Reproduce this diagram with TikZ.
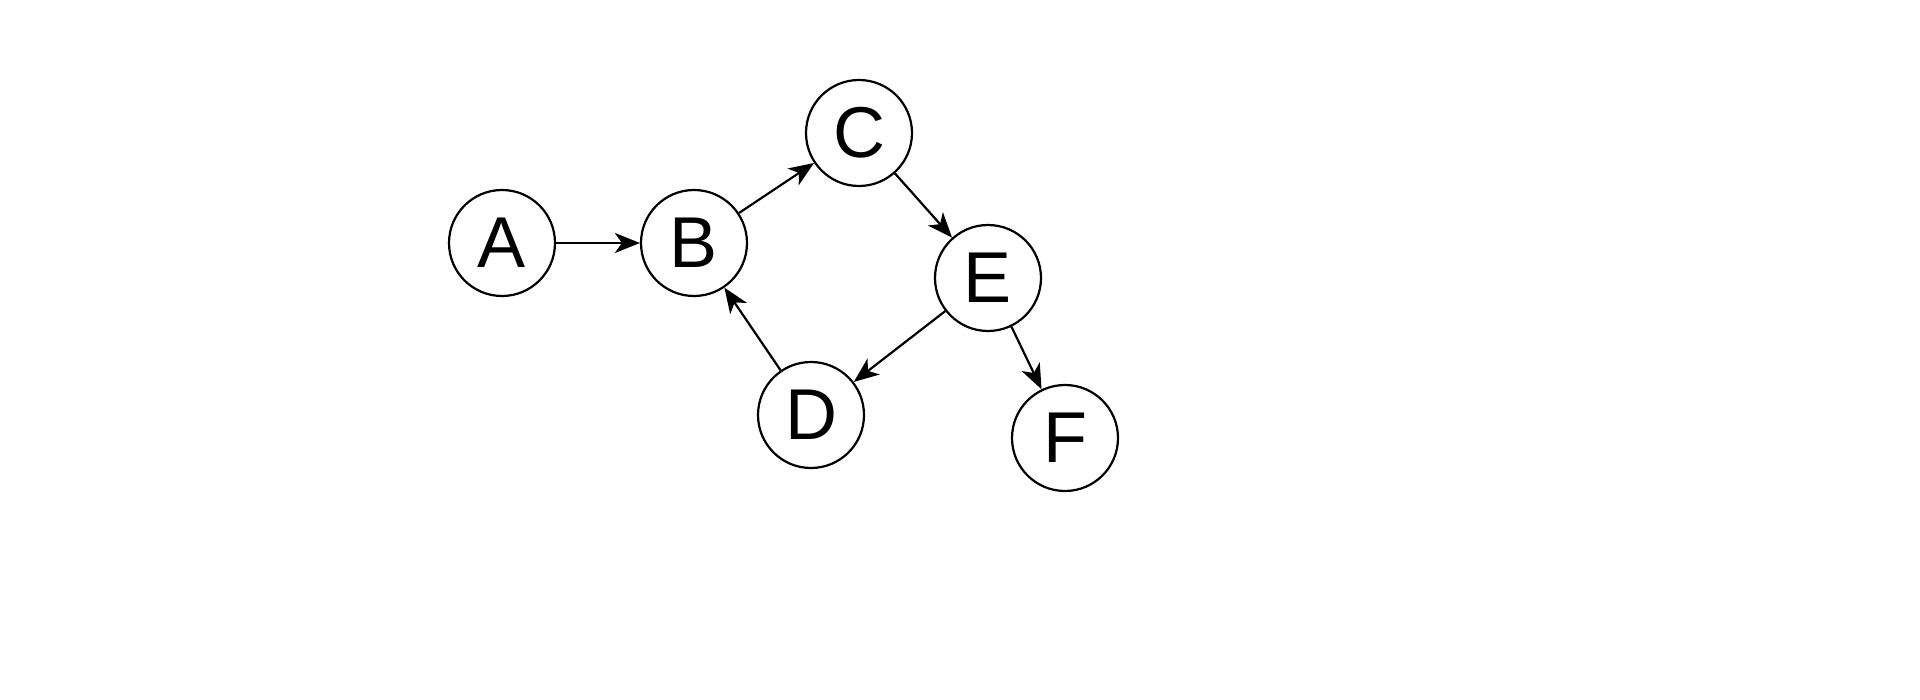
\documentclass[tikz,border=0pt]{standalone}
\usepackage{fontspec}
\setmainfont{Liberation Sans}
\usetikzlibrary{arrows.meta}
\begin{document}
\begin{tikzpicture}[x=1pt,y=-1pt,
  v/.style={circle,draw,line width=2.2pt,minimum size=106pt,inner sep=0pt,font=\fontsize{72}{72}\selectfont},
  e/.style={line width=2.2pt,-{Stealth[length=25pt,width=20pt,inset=7pt]}}]
\useasboundingbox (0,0) rectangle (1920,700);
\node[v] (A) at (502,243) {A};
\node[v] (B) at (694,243) {B};
\node[v] (C) at (859,133) {C};
\node[v] (E) at (988,278) {E};
\node[v] (D) at (811,415) {D};
\node[v] (F) at (1065,438) {F};
\draw[e] (A) -- (B);
\draw[e] (B) -- (C);
\draw[e] (C) -- (E);
\draw[e] (E) -- (D);
\draw[e] (E) -- (F);
\draw[e] (D) -- (B);
\end{tikzpicture}
\end{document}
